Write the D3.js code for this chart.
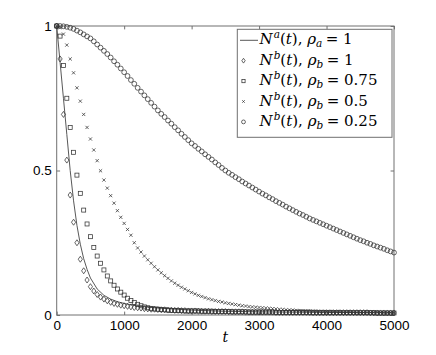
<!DOCTYPE html>
<html>
<head>
<meta charset="utf-8">
<script src="https://cdn.jsdelivr.net/npm/d3@7"></script>
<style>
  html, body { margin: 0; padding: 0; background: #fff; }
  svg { display: block; }
</style>
</head>
<body>
<svg id="chart" width="436" height="355"></svg>
<script>
// ---------- DATA ----------
const xTicks = [0, 1000, 2000, 3000, 4000, 5000];
const yTicks = [0, 0.5, 1];
const yTickLabels = ["0", "0.5", "1"];

// time grid of the markers (every 50 time units, 0..5000)
const tMarkers = d3.range(0, 5001, 50);

// N^a(t), rho_a = 1  (solid line)
const lineT = [0, 50, 100, 150, 200, 250, 300, 350, 400, 450, 500, 600, 700, 800, 900, 1000, 1200, 1500, 2000, 2500, 3000, 4000, 5000];
const lineV = [1.0, 0.875, 0.75, 0.625, 0.50, 0.395, 0.31, 0.245, 0.195, 0.158, 0.128, 0.090, 0.068, 0.055, 0.046, 0.040, 0.031, 0.024, 0.017, 0.013, 0.011, 0.009, 0.008];

// N^b(t), rho_b = 1  (diamonds)
const rho100 = [1.0, 0.886, 0.694, 0.536, 0.415, 0.321, 0.250, 0.193, 0.153, 0.121,
  0.098, 0.083, 0.071, 0.062, 0.055, 0.049, 0.044, 0.040, 0.037, 0.034,
  0.032, 0.030, 0.028, 0.026, 0.025, 0.024, 0.022, 0.021, 0.020, 0.020,
  0.019, 0.018, 0.018, 0.017, 0.017, 0.016, 0.016, 0.015, 0.015, 0.014,
  0.014, 0.014, 0.013, 0.013, 0.013, 0.013, 0.012, 0.012, 0.012, 0.012,
  0.012, 0.011, 0.011, 0.011, 0.011, 0.011, 0.010, 0.010, 0.010, 0.010,
  0.010, 0.010, 0.010, 0.010, 0.010, 0.009, 0.009, 0.009, 0.009, 0.009,
  0.009, 0.009, 0.009, 0.009, 0.009, 0.009, 0.008, 0.008, 0.008, 0.008,
  0.008, 0.008, 0.008, 0.008, 0.008, 0.008, 0.008, 0.008, 0.008, 0.008,
  0.008, 0.008, 0.008, 0.007, 0.007, 0.007, 0.007, 0.007, 0.007, 0.007, 0.007];

// N^b(t), rho_b = 0.75  (squares)
const rho075 = [1.0, 0.965, 0.863, 0.750, 0.649, 0.563, 0.484, 0.421, 0.363, 0.315,
  0.271, 0.234, 0.204, 0.179, 0.156, 0.135, 0.118, 0.103, 0.090, 0.079,
  0.069, 0.058, 0.050, 0.043, 0.037, 0.032, 0.028, 0.025, 0.023, 0.021,
  0.020, 0.019, 0.018, 0.017, 0.016, 0.016, 0.015, 0.015, 0.014, 0.014,
  0.014, 0.014, 0.014, 0.013, 0.013, 0.013, 0.013, 0.012, 0.012, 0.012,
  0.012, 0.012, 0.011, 0.011, 0.011, 0.011, 0.011, 0.010, 0.010, 0.010,
  0.010, 0.010, 0.010, 0.010, 0.010, 0.009, 0.009, 0.009, 0.009, 0.009,
  0.009, 0.009, 0.009, 0.009, 0.009, 0.008, 0.008, 0.008, 0.008, 0.008,
  0.008, 0.008, 0.008, 0.008, 0.008, 0.008, 0.008, 0.008, 0.008, 0.008,
  0.008, 0.008, 0.008, 0.008, 0.008, 0.007, 0.007, 0.007, 0.007, 0.007, 0.007];

// N^b(t), rho_b = 0.5  (crosses)
const rho050 = [1.0, 0.995, 0.972, 0.934, 0.886, 0.838, 0.786, 0.740, 0.694, 0.649,
  0.609, 0.571, 0.534, 0.499, 0.467, 0.439, 0.413, 0.387, 0.361, 0.338,
  0.317, 0.296, 0.276, 0.250, 0.232, 0.218, 0.204, 0.191, 0.179, 0.167,
  0.156, 0.146, 0.136, 0.127, 0.118, 0.110, 0.103, 0.096, 0.090, 0.084,
  0.078, 0.073, 0.068, 0.064, 0.060, 0.056, 0.053, 0.050, 0.047, 0.045,
  0.042, 0.040, 0.038, 0.036, 0.034, 0.032, 0.031, 0.029, 0.028, 0.027,
  0.026, 0.025, 0.024, 0.023, 0.022, 0.021, 0.020, 0.019, 0.018, 0.017,
  0.017, 0.016, 0.015, 0.015, 0.014, 0.014, 0.013, 0.013, 0.012, 0.012,
  0.012, 0.011, 0.011, 0.011, 0.010, 0.010, 0.010, 0.010, 0.010, 0.009,
  0.009, 0.009, 0.009, 0.009, 0.009, 0.009, 0.009, 0.008, 0.008, 0.008, 0.008];

// N^b(t), rho_b = 0.25  (circles)
const rho025 = [1.000, 1.000, 0.999, 0.997, 0.994, 0.990, 0.984, 0.978, 0.971, 0.964,
  0.957, 0.947, 0.936, 0.925, 0.914, 0.903, 0.891, 0.878, 0.866, 0.853,
  0.840, 0.827, 0.813, 0.800, 0.786, 0.773, 0.760, 0.747, 0.734, 0.721,
  0.708, 0.696, 0.685, 0.673, 0.662, 0.650, 0.639, 0.627, 0.616, 0.605,
  0.594, 0.585, 0.575, 0.566, 0.556, 0.547, 0.538, 0.528, 0.519, 0.509,
  0.500, 0.492, 0.485, 0.477, 0.470, 0.462, 0.455, 0.448, 0.441, 0.434,
  0.427, 0.420, 0.414, 0.407, 0.401, 0.394, 0.388, 0.382, 0.375, 0.369,
  0.363, 0.357, 0.351, 0.346, 0.340, 0.334, 0.329, 0.324, 0.319, 0.314,
  0.309, 0.304, 0.299, 0.294, 0.289, 0.284, 0.279, 0.274, 0.269, 0.264,
  0.259, 0.255, 0.250, 0.246, 0.241, 0.237, 0.233, 0.229, 0.224, 0.220, 0.216];

const legendLabels = [
  {sym: "line", sup: "a", sub: "a", val: "1"},
  {sym: "diamond", sup: "b", sub: "b", val: "1"},
  {sym: "square", sup: "b", sub: "b", val: "0.75"},
  {sym: "cross", sup: "b", sub: "b", val: "0.5"},
  {sym: "circle", sup: "b", sub: "b", val: "0.25"}
];

// ---------- LAYOUT ----------
const L = 56.7, R = 394, T = 26, B = 315;
const axisColor = "#707070";
const markColor = "#333";
const svg = d3.select("#chart");

const x = d3.scaleLinear().domain([0, 5000]).range([L, R]);
const y = d3.scaleLinear().domain([0, 1]).range([B, T]);

// box
svg.append("rect").attr("x", L).attr("y", T).attr("width", R - L).attr("height", B - T)
  .attr("fill", "none").attr("stroke", axisColor).attr("stroke-width", 1);

const tickLen = 3.4;
const numFont = "'Liberation Sans', Arial, Helvetica, sans-serif";

// bottom axis
const gx = svg.append("g").attr("transform", `translate(0,${B})`)
  .call(d3.axisBottom(x).tickValues(xTicks).tickSizeInner(-tickLen).tickSizeOuter(0).tickPadding(5.5).tickFormat(d3.format("d")));
// top ticks
const gxt = svg.append("g").attr("transform", `translate(0,${T})`)
  .call(d3.axisTop(x).tickValues(xTicks).tickSizeInner(-tickLen).tickSizeOuter(0).tickFormat(""));
// left axis
const gy = svg.append("g").attr("transform", `translate(${L},0)`)
  .call(d3.axisLeft(y).tickValues(yTicks).tickSizeInner(-tickLen).tickSizeOuter(0).tickPadding(5)
    .tickFormat((d, i) => yTickLabels[i]));
// right ticks
const gyr = svg.append("g").attr("transform", `translate(${R},0)`)
  .call(d3.axisRight(y).tickValues(yTicks).tickSizeInner(-tickLen).tickSizeOuter(0).tickFormat(""));

[gx, gxt, gy, gyr].forEach(g => {
  g.select(".domain").remove();
  g.selectAll(".tick line").attr("stroke", axisColor).attr("stroke-width", 1);
  g.selectAll(".tick text").attr("fill", "#000").style("font-family", numFont).style("font-size", "13.5px");
});

// x label
svg.append("text").attr("x", x(2500)).attr("y", 342)
  .attr("text-anchor", "middle")
  .style("font-family", "'DejaVu Serif', serif").style("font-style", "italic").style("font-size", "14px")
  .text("t");

// ---------- MARKS ----------
const line = d3.line().x((d, i) => x(lineT[i])).y(d => y(d));
svg.append("path").datum(lineV).attr("d", line)
  .attr("fill", "none").attr("stroke", "#454545").attr("stroke-width", 0.9);

function drawSymbol(g, type, cx, cy, k) {
  k = k || 1;
  if (type === "diamond") {
    g.append("path").attr("d", `M${cx},${cy - 3 * k}L${cx + 2.1 * k},${cy}L${cx},${cy + 3 * k}L${cx - 2.1 * k},${cy}Z`)
      .attr("fill", "none").attr("stroke", markColor).attr("stroke-width", 0.75);
  } else if (type === "square") {
    g.append("rect").attr("x", cx - 2 * k).attr("y", cy - 2 * k).attr("width", 4 * k).attr("height", 4 * k)
      .attr("fill", "none").attr("stroke", markColor).attr("stroke-width", 0.75);
  } else if (type === "cross") {
    const h = 1.6 * k;
    g.append("path").attr("d", `M${cx - h},${cy - h}L${cx + h},${cy + h}M${cx - h},${cy + h}L${cx + h},${cy - h}`)
      .attr("fill", "none").attr("stroke", markColor).attr("stroke-width", 0.75);
  } else if (type === "circle") {
    g.append("circle").attr("cx", cx).attr("cy", cy).attr("r", 2.4 * k)
      .attr("fill", "none").attr("stroke", markColor).attr("stroke-width", 0.75);
  }
}

const seriesList = [
  {vals: rho100, sym: "diamond"},
  {vals: rho075, sym: "square"},
  {vals: rho050, sym: "cross"},
  {vals: rho025, sym: "circle"}
];
seriesList.forEach(s => {
  const g = svg.append("g");
  s.vals.forEach((v, i) => drawSymbol(g, s.sym, x(tMarkers[i]), y(v)));
});

// ---------- LEGEND ----------
const lg = svg.append("g");
lg.append("rect").attr("x", 237.3).attr("y", 29.3).attr("width", 154.7).attr("height", 108)
  .attr("fill", "#fff").attr("stroke", axisColor).attr("stroke-width", 1);

const serif = "'DejaVu Serif', serif";
legendLabels.forEach((e, i) => {
  const base = 44.3 + i * 20.4;
  const cy = base - 4;
  if (e.sym === "line") {
    lg.append("line").attr("x1", 240).attr("x2", 258).attr("y1", cy).attr("y2", cy)
      .attr("stroke", "#454545").attr("stroke-width", 0.9);
  } else {
    drawSymbol(lg, e.sym, 243.5, cy, 0.8);
  }
  const t = lg.append("text").attr("x", 259.5).attr("y", base)
    .style("font-family", serif).style("font-size", "15px").attr("fill", "#000");
  t.append("tspan").style("font-style", "italic").text("N");
  t.append("tspan").style("font-style", "italic").style("font-size", "10.5px").attr("dy", -6).attr("dx", 1).text(e.sup);
  t.append("tspan").attr("dy", 6).text("(");
  t.append("tspan").style("font-style", "italic").text("t");
  t.append("tspan").text("), ");
  t.append("tspan").style("font-style", "italic").text("ρ");
  t.append("tspan").style("font-style", "italic").style("font-size", "10.5px").attr("dy", 3).text(e.sub);
  t.append("tspan").attr("dy", -3).attr("dx", 3.5).text("= " + e.val);
});
</script>
</body>
</html>
